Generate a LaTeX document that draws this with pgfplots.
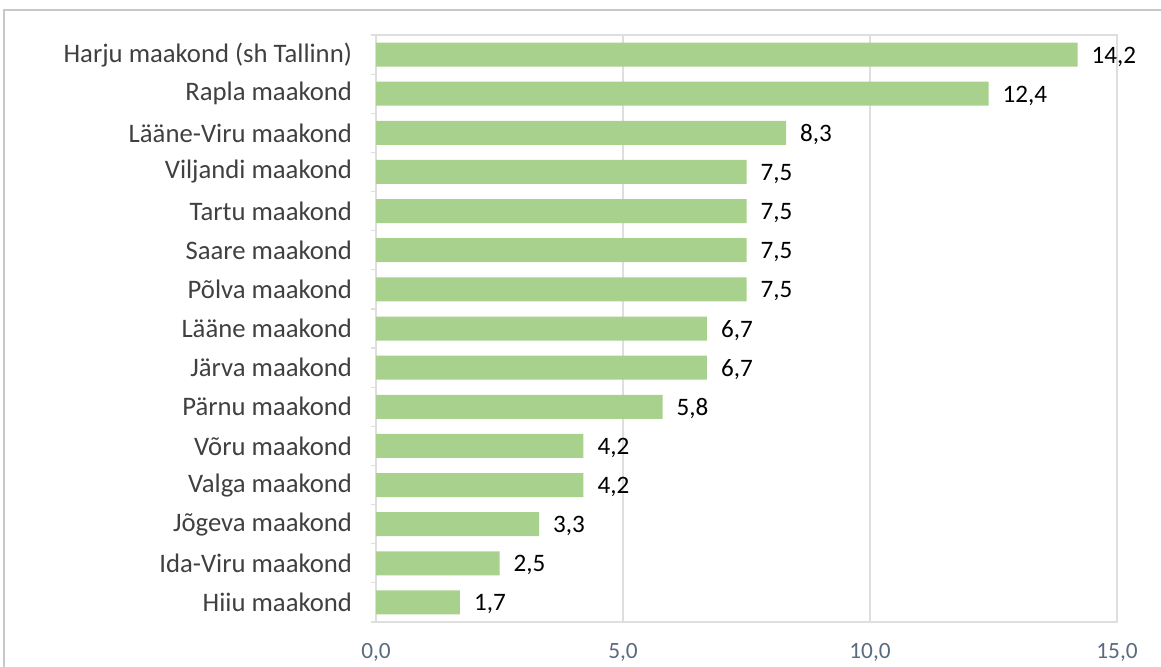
\documentclass[border=0pt]{standalone}
\usepackage{fontspec}
\setmainfont{Carlito}
\usepackage{pgfplots}
\pgfplotsset{compat=1.18}

\definecolor{barfill}{HTML}{A9D18E}
\definecolor{gridgray}{HTML}{DEDEDE}
\definecolor{ticktext}{HTML}{5A6A80}
\definecolor{cattext}{HTML}{404040}
\definecolor{framegray}{HTML}{C8C8C8}

\begin{document}
\begin{tikzpicture}[x=1bp,y=1bp]
\useasboundingbox (0,0) rectangle (580.5,333);
% chart frame (only top and left edges are visible)
\draw[framegray, line width=1.2bp] (2,-20) -- (2,328) -- (620,328);
\begin{axis}[
    at={(188bp,22bp)}, anchor=south west,
    scale only axis,
    width=370.5bp, height=293.5bp,
    xbar, bar width=12bp,
    xmin=0, xmax=15,
    ymin=-0.5, ymax=14.5,
    % x axis
    xtick={0,5,10,15},
    xticklabel style={font=\fontsize{11.7}{13}\selectfont, text=ticktext, yshift=-7bp},
    /pgf/number format/assume math mode=true,
    /pgf/number format/use comma,
    /pgf/number format/fixed,
    /pgf/number format/fixed zerofill,
    /pgf/number format/precision=1,
    % y axis
    ytick={0,...,14},
    yticklabels={
        Hiiu maakond,
        Ida-Viru maakond,
        Jõgeva maakond,
        Valga maakond,
        Võru maakond,
        Pärnu maakond,
        Järva maakond,
        Lääne maakond,
        Põlva maakond,
        Saare maakond,
        Tartu maakond,
        Viljandi maakond,
        Lääne-Viru maakond,
        Rapla maakond,
        Harju maakond (sh Tallinn)
    },
    yticklabel style={font=\fontsize{13.4}{15}\selectfont, text=cattext, xshift=-8.5bp},
    ytick pos=left,
    xtick pos=bottom,
    minor ytick={-0.5,0.5,...,14.5},
    major tick length=0pt,
    minor tick length=2.5bp,
    tick align=outside,
    tick style={gridgray, line width=0.6bp},
    % grid and frame
    xmajorgrids = true,
    grid style  = {gridgray, line width=0.6bp},
    axis line style = {gridgray, line width=0.6bp},
    % data labels
    nodes near coords,
    every node near coord/.append style={
        font=\fontsize{12.6}{14}\selectfont, text=black, xshift=3.5bp, yshift=-1bp
    },
]
    \addplot+[fill=barfill, draw=none] coordinates {
        (1.7,0)
        (2.5,1)
        (3.3,2)
        (4.2,3)
        (4.2,4)
        (5.8,5)
        (6.7,6)
        (6.7,7)
        (7.5,8)
        (7.5,9)
        (7.5,10)
        (7.5,11)
        (8.3,12)
        (12.4,13)
        (14.2,14)
    };
\end{axis}
\end{tikzpicture}
\end{document}
